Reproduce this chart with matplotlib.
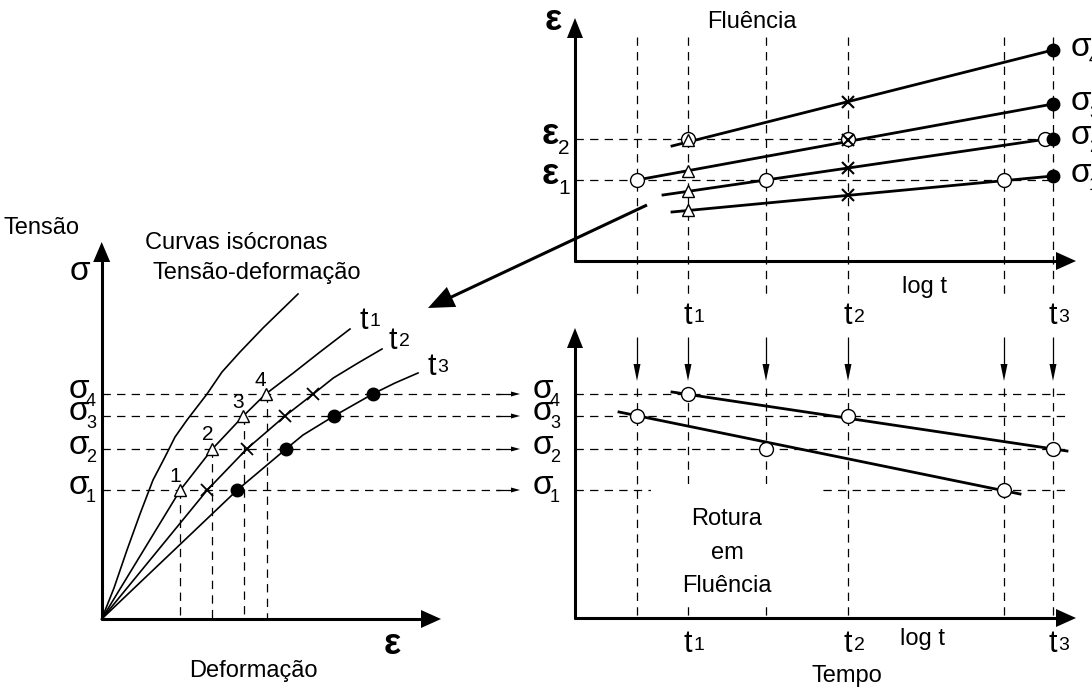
import matplotlib
matplotlib.use("Agg")
import matplotlib.pyplot as plt
from matplotlib.patches import Polygon, Rectangle
import numpy as np

plt.rcParams['font.family'] = ['Liberation Sans', 'DejaVu Sans']
plt.rcParams['lines.scale_dashes'] = False

# ---------------- data (diagram units: x to the right, y downwards) ----------------
# stress levels sigma1..sigma4
stress_names = ['1', '2', '3', '4']
stress_y = [490, 449, 416, 394]

# strain levels epsilon1, epsilon2
strain_names = ['1', '2']
strain_y = [180, 139]

# log t reading columns shared by creep and rupture diagrams
time_cols = [637, 688, 766, 848, 1004, 1053]
time_names = ['1', '2', '3']
time_x = [688, 848, 1053]

# isochronous stress-strain curves
iso_t0_x = [101.7, 114, 127, 140, 153, 165, 175, 187, 207, 222, 240, 263, 298]
iso_t0_y = [619, 588, 550, 514, 480, 457, 437, 420, 394, 372, 352, 328, 294]
iso_t1_x = [101.7, 180.3, 212.3, 243.3, 265.7, 293.3, 320, 350]
iso_t1_y = [619, 490, 449, 416, 394, 373, 352, 329]
iso_t2_x = [101.7, 207.3, 246.7, 285, 313.3, 333.3, 358, 382]
iso_t2_y = [619, 490, 449, 416, 394, 378, 363, 349]
iso_t3_x = [101.7, 237.3, 286, 303, 334, 372.7, 395, 418]
iso_t3_y = [619, 490, 449, 435, 416, 394, 383, 373]
iso_drop_x = [180.3, 212.3, 244, 266.7]   # strains read at t1 for sigma1..sigma4

# creep curves (strain vs log t) for sigma1..sigma4
creep_x = {'1': [672, 1053], '2': [663, 1047], '3': [637, 1053], '4': [672, 1053]}
creep_y = {'1': [212, 176], '2': [195, 139], '3': [180, 104], '4': [146, 50]}
creep_t1_y = [210, 191, 171, 140]     # triangles at t1
creep_t2_y = [195, 168, 140, 102]     # crosses at t2
creep_t3_y = [176, 139, 104, 50]      # dots at t3
creep_open_x = [637, 766, 1004, 688, 848, 1045]
creep_open_y = [180, 180, 180, 139, 139, 139]

# creep rupture lines (stress vs log t)
rupt_a_x = [672, 1067]; rupt_a_y = [392, 451]
rupt_a_px = [688, 848, 1053]; rupt_a_py = [394, 416, 449]
rupt_b_x = [619, 1020]; rupt_b_y = [412, 494]
rupt_b_px = [637, 766, 1004]; rupt_b_py = [416, 449, 490]

W, H = 1092, 689
fig = plt.figure(figsize=(W / 100, H / 100), dpi=100)
ax = fig.add_axes([0, 0, 1, 1])
ax.set_xlim(0, W)
ax.set_ylim(H, 0)
ax.axis('off')

K = 'black'
DASH = dict(color=K, lw=0.9, dashes=(6, 4.5), zorder=1)
FS = 17


def arrow(x0, y0, x1, y1, lw, hl, hw, z=3):
    d = np.array([x1 - x0, y1 - y0], float)
    L = np.hypot(*d)
    u = d / L
    n = np.array([-u[1], u[0]])
    base = np.array([x1, y1]) - u * hl
    ax.plot([x0, base[0] + u[0]], [y0, base[1] + u[1]], color=K, lw=lw,
            solid_capstyle='butt', zorder=z)
    tri = [(x1, y1), tuple(base + n * hw / 2), tuple(base - n * hw / 2)]
    ax.add_patch(Polygon(tri, closed=True, color=K, lw=0, zorder=z))


def sub_label(x, y, main, sub, size=24, ssize=13, dx=12, dy=12, **kw):
    ax.text(x, y, main, ha='center', va='center', fontsize=size, **kw)
    ax.text(x + dx, y + dy, sub, ha='center', va='center', fontsize=ssize)


def t_label(x, y, n):
    ax.text(x, y, 't', ha='center', va='center', fontsize=22)
    ax.text(x + 11, y + 1, n, ha='center', va='center', fontsize=14)


# ---------------- left: isochronous curves ----------------
ox, oy = 101.7, 619
arrow(ox, oy + 1, ox, 242, 2.2, 20, 17)
arrow(ox - 1, oy, 441, oy, 2.2, 20, 18)

for sy, dx_ in zip(stress_y, iso_drop_x):
    ax.plot([dx_, dx_], [sy, oy], **DASH)
for sy in stress_y:
    ax.plot([ox, 500], [sy, sy], **DASH)
    arrow(496, sy, 520, sy, 0.9, 9, 5)

for xs, ys in [(iso_t0_x, iso_t0_y), (iso_t1_x, iso_t1_y),
               (iso_t2_x, iso_t2_y), (iso_t3_x, iso_t3_y)]:
    ax.plot(xs, ys, color=K, lw=1.2, zorder=2)

ax.plot(iso_t1_x[1:5], iso_t1_y[1:5], ls='none', marker='^', ms=8,
        mfc='white', mec=K, mew=1.0, zorder=4)
ax.plot(iso_t2_x[1:5], iso_t2_y[1:5], ls='none', marker='x', ms=8,
        mec=K, mew=1.3, zorder=4)
ax.plot(iso_t3_x[1:3] + iso_t3_x[4:6], iso_t3_y[1:3] + iso_t3_y[4:6], ls='none',
        marker='o', ms=9, mfc=K, mec=K, zorder=4)

for i, (px, py) in enumerate(zip(iso_t1_x[1:5], iso_t1_y[1:5])):
    ax.text(px - 5, py - 14, stress_names[i], ha='center', va='center', fontsize=15)

for sy, nm in zip(stress_y, stress_names):
    sub_label(79, sy - 4, 'σ', nm)
ax.text(80, 272, 'σ', ha='center', va='center', fontsize=24)
ax.text(42, 228, 'Tensão', ha='center', va='center', fontsize=FS)
ax.text(236, 243, 'Curvas isócronas', ha='center', va='center', fontsize=FS)
ax.text(257, 273, 'Tensão-deformação', ha='center', va='center', fontsize=FS)
t_label(364, 321, '1')
t_label(393, 341, '2')
t_label(432, 367, '3')
ax.text(392, 645, 'ε', ha='center', va='center', fontsize=26, fontweight='bold')
ax.text(253, 671, 'Deformação', ha='center', va='center', fontsize=FS)

# ---------------- top right: creep curves ----------------
cx0, cy0 = 575, 261
arrow(cx0, cy0 + 1, cx0, 18, 2.2, 20, 16)
arrow(cx0 - 1, cy0, 1076, cy0, 2.2, 20, 18)

for x in time_cols:
    ax.plot([x, x], [37, 297], **DASH)
for sy, xe in zip(strain_y, [1052, 1042]):
    ax.plot([cx0, xe], [sy, sy], **DASH)

for nm in stress_names:
    ax.plot(creep_x[nm], creep_y[nm], color=K, lw=2.0, zorder=2)

ax.plot(creep_open_x, creep_open_y, ls='none', marker='o', ms=10,
        mfc='white', mec=K, mew=1.0, zorder=4)
ax.plot([time_x[0]] * 4, creep_t1_y, ls='none', marker='^', ms=8,
        mfc='white', mec=K, mew=1.0, zorder=5)
ax.plot([time_x[1]] * 4, creep_t2_y, ls='none', marker='x', ms=8,
        mec=K, mew=1.5, zorder=5)
ax.plot([time_x[2]] * 4, creep_t3_y, ls='none', marker='o', ms=9,
        mfc=K, mec=K, zorder=5)

ax.text(752, 22, 'Fluência', ha='center', va='center', fontsize=FS)
ax.text(553, 20, 'ε', ha='center', va='center', fontsize=26, fontweight='bold')
for sy, nm in zip(strain_y, strain_names):
    sub_label(550, sy - 5, 'ε', nm, size=26, ssize=15, dx=14, dy=14, fontweight='bold')
for sy, nm in zip(creep_t3_y, stress_names):
    sub_label(1081, sy - 3, 'σ', nm, dx=13)
ax.text(924, 287, 'log t', ha='center', va='center', fontsize=FS)
for x, nm in zip(time_x, time_names):
    t_label(x, 316, nm)

# ---------------- bottom right: creep rupture ----------------
bx0, by0 = 575, 618
arrow(bx0, by0 + 1, bx0, 328, 2.2, 20, 16)
arrow(bx0 - 1, by0, 1076, by0, 2.2, 20, 18)

for x in time_cols:
    arrow(x, 337, x, 381, 0.9, 17, 7)
    ax.plot([x, x], [388, by0], **DASH)
for sy in stress_y:
    ax.plot([bx0, 1068], [sy, sy], **DASH)
ax.add_patch(Rectangle((651, 484), 170, 123, color='white', lw=0, zorder=1.5))

ax.plot(rupt_a_x, rupt_a_y, color=K, lw=2.0, zorder=2)
ax.plot(rupt_b_x, rupt_b_y, color=K, lw=2.0, zorder=2)
ax.plot(rupt_a_px + rupt_b_px, rupt_a_py + rupt_b_py, ls='none', marker='o', ms=10,
        mfc='white', mec=K, mew=1.0, zorder=4)

for sy, nm in zip(stress_y, stress_names):
    sub_label(543, sy - 4, 'σ', nm)
ax.text(727, 519, 'Rotura', ha='center', va='center', fontsize=FS)
ax.text(727, 553, 'em', ha='center', va='center', fontsize=FS)
ax.text(727, 586, 'Fluência', ha='center', va='center', fontsize=FS)
for x, nm in zip(time_x, time_names):
    t_label(x, 644, nm)
ax.text(922, 639, 'log t', ha='center', va='center', fontsize=FS)
ax.text(847, 676, 'Tempo', ha='center', va='center', fontsize=FS)

# arrow from creep curves to isochronous curves
arrow(647, 205, 428, 308, 2.2, 26, 22)

fig.savefig('out.png', dpi=100)
